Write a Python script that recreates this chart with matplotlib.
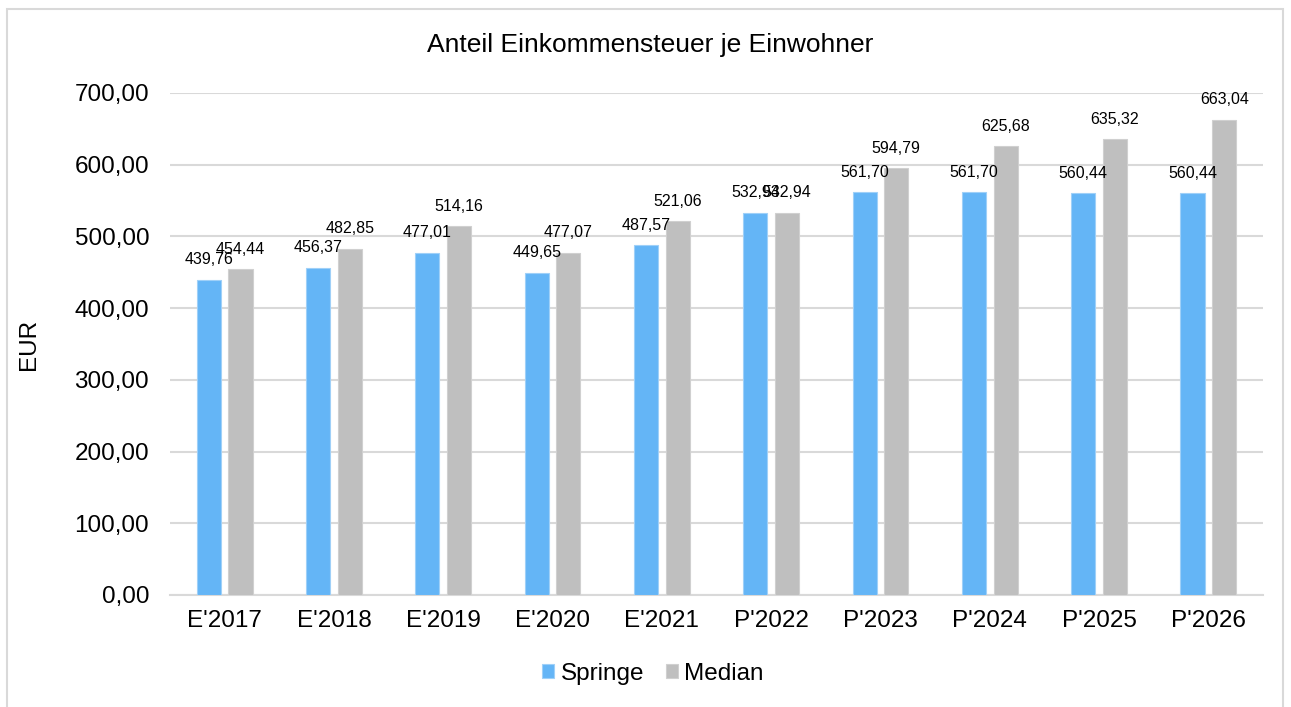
import matplotlib.pyplot as plt
import numpy as np
from matplotlib.patches import Rectangle

plt.rcParams['font.family'] = ['Liberation Sans', 'DejaVu Sans']

# Data
categories = ["E'2017", "E'2018", "E'2019", "E'2020", "E'2021",
              "P'2022", "P'2023", "P'2024", "P'2025", "P'2026"]
springe = [439.76, 456.37, 477.01, 449.65, 487.57, 532.94, 561.70, 561.70, 560.44, 560.44]
median = [454.44, 482.85, 514.16, 477.07, 521.06, 532.94, 594.79, 625.68, 635.32, 663.04]
yticks = [0, 100, 200, 300, 400, 500, 600, 700]


def fmt(v):
    return f"{v:,.2f}".replace(",", "X").replace(".", ",").replace("X", ".")


fig = plt.figure(figsize=(12.91, 7.07), dpi=100)
ax = fig.add_axes([170 / 1291, 1 - 595 / 707, (1263 - 170) / 1291, (595 - 93) / 707])

# outer chart border
fig.patches.append(Rectangle((7 / 1291, -0.01), (1283 - 7) / 1291, 1 - 9 / 707 + 0.01,
                             transform=fig.transFigure, fill=False,
                             edgecolor='#D9D9D9', linewidth=1.5))

x = np.arange(len(categories))
width = 0.22
off = 0.145
b1 = ax.bar(x - off, springe, width, color='#64B5F6', edgecolor='#9FD0F8',
            linewidth=0.8, label='Springe', zorder=3)
b2 = ax.bar(x + off, median, width, color='#BFBFBF', edgecolor='#D0D0D0',
            linewidth=0.8, label='Median', zorder=3)

for bars, vals in ((b1, springe), (b2, median)):
    for r, v in zip(bars, vals):
        ax.annotate(fmt(v), (r.get_x() + r.get_width() / 2, v),
                    xytext=(0, 9), textcoords='offset points',
                    ha='center', va='bottom', fontsize=11.5, color='#000000')

ax.set_xlim(-0.5, len(categories) - 0.5)
ax.set_ylim(0, 700)
ax.set_yticks(yticks)
ax.set_yticklabels([fmt(t) for t in yticks], fontsize=17.5)
ax.set_xticks(x)
ax.set_xticklabels(categories, fontsize=17.5)
ax.tick_params(length=0)
ax.tick_params(axis='x', pad=11)
ax.tick_params(axis='y', pad=15)
ax.grid(axis='y', color='#D9D9D9', linewidth=1.5, zorder=0)
for s in ['top', 'right', 'left']:
    ax.spines[s].set_visible(False)
ax.spines['bottom'].set_color('#D9D9D9')
ax.spines['bottom'].set_linewidth(1.5)

ax.set_ylabel('EUR', fontsize=17.5)
ax.yaxis.set_label_coords(-130 / 1093, 0.5)
fig.text(650 / 1291, 1 - 45 / 707, 'Anteil Einkommensteuer je Einwohner',
         ha='center', va='center', fontsize=19)

fig.legend(loc='center', bbox_to_anchor=(653 / 1291, 1 - 674 / 707), ncol=2,
           frameon=False, fontsize=17.5, handlelength=0.5, handleheight=0.5,
           handletextpad=0.25, columnspacing=0.9)

plt.savefig('out.png', dpi=100)
